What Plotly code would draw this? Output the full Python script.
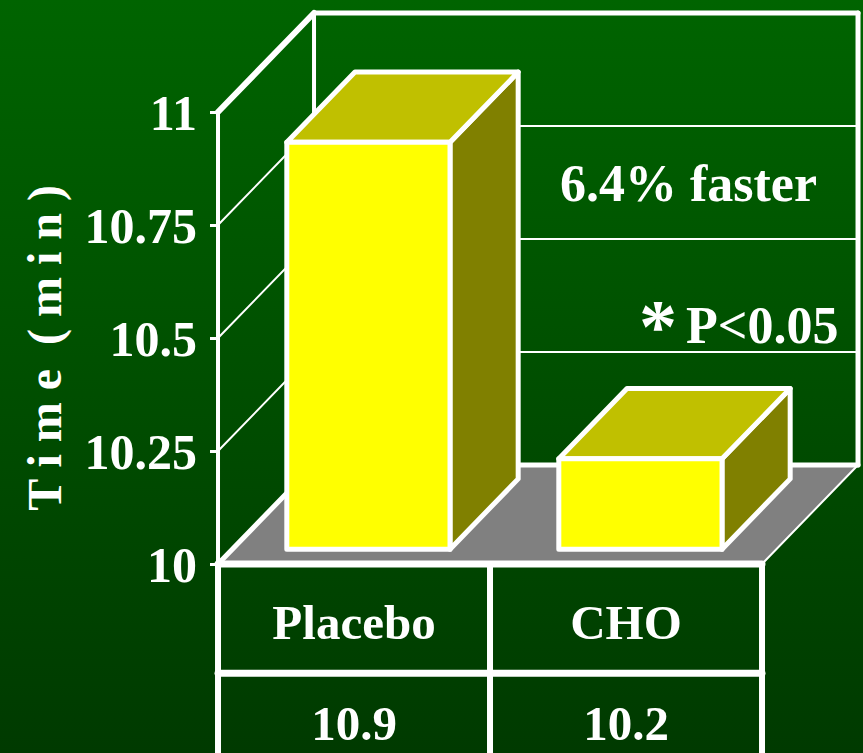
import plotly.graph_objects as go

# ---- data -------------------------------------------------------------
categories = ["Placebo", "CHO"]
times = [10.9, 10.2]                      # minutes
tick_values = [10, 10.25, 10.5, 10.75, 11]
tick_labels = ["10", "10.25", "10.5", "10.75", "11"]
y_title = "T i m e  ( m i n )"
note_faster = "6.4% faster"
note_p_mark = "*"
note_p = "P&lt;0.05"

# ---- view / oblique projection ----------------------------------------
X_RANGE = [-0.8015, 2.3713]       # category units (one table cell = 1)
Y_RANGE = [9.5819, 11.2478]       # minutes
DEPTH_X = 0.353                   # shift per unit depth, x units
DEPTH_Y = 0.219                   # shift per unit depth, minutes
V_MIN, V_MAX = tick_values[0], tick_values[-1]
N = len(categories)
BAR_LO, BAR_HI = 0.2, 0.8         # bar extent inside its cell
BAR_D0, BAR_D1 = 0.15, 0.86       # bar extent in depth
ROW_H = 0.2415                    # table row height, minutes
LABEL_DROP = 0.018                # optical centring of category labels

WHITE = "#FFFFFF"
FONT = "Liberation Serif"
BAR_FRONT, BAR_TOP, BAR_SIDE = "#FFFF00", "#C0C000", "#808000"
FLOOR = "#808080"


def proj(x, v, d):
    return x + d * DEPTH_X, v + d * DEPTH_Y


fig = go.Figure()


def poly(pts, fill, lw):
    xs, ys = zip(*[proj(*p) for p in pts])
    fig.add_trace(go.Scatter(
        x=list(xs) + [xs[0]], y=list(ys) + [ys[0]], mode="lines",
        fill="toself", fillcolor=fill,
        line=dict(color=WHITE, width=lw),
        hoverinfo="skip", showlegend=False))


def seg(p, q, lw):
    (x0, y0), (x1, y1) = proj(*p), proj(*q)
    fig.add_trace(go.Scatter(
        x=[x0, x1], y=[y0, y1], mode="lines",
        line=dict(color=WHITE, width=lw),
        hoverinfo="skip", showlegend=False))


# background gradient
fig.add_trace(go.Scatter(
    x=[X_RANGE[0], X_RANGE[1], X_RANGE[1], X_RANGE[0], X_RANGE[0]],
    y=[Y_RANGE[0], Y_RANGE[0], Y_RANGE[1], Y_RANGE[1], Y_RANGE[0]],
    mode="lines", fill="toself", line=dict(width=0),
    fillgradient=dict(type="vertical",
                      colorscale=[[0, "#003a00"], [1, "#006400"]]),
    hoverinfo="skip", showlegend=False))

# floor
poly([(0, V_MIN, 0), (N, V_MIN, 0), (N, V_MIN, 1), (0, V_MIN, 1)], FLOOR, 0)
seg((0, V_MIN, 0), (0, V_MIN, 1), 5)
seg((N, V_MIN, 0), (N, V_MIN, 1), 2)

# back wall gridlines and side wall diagonals
for v in tick_values[1:-1]:
    seg((0, v, 1), (N, v, 1), 2)
    seg((0, v, 0), (0, v, 1), 2)

# back wall frame
seg((0, V_MAX, 1), (N, V_MAX, 1), 5)
seg((N, V_MIN, 1), (N, V_MAX, 1), 5)
seg((0, V_MIN, 1), (0, V_MAX, 1), 4)
seg((0, V_MIN, 1), (N, V_MIN, 1), 5)
seg((0, V_MAX, 0), (0, V_MAX, 1), 6)

# bars: side, top, front
for i, t in enumerate(times):
    x0, x1 = i + BAR_LO, i + BAR_HI
    poly([(x1, V_MIN, BAR_D0), (x1, V_MIN, BAR_D1),
          (x1, t, BAR_D1), (x1, t, BAR_D0)], BAR_SIDE, 5)
    poly([(x0, t, BAR_D0), (x1, t, BAR_D0),
          (x1, t, BAR_D1), (x0, t, BAR_D1)], BAR_TOP, 5)
    poly([(x0, V_MIN, BAR_D0), (x1, V_MIN, BAR_D0),
          (x1, t, BAR_D0), (x0, t, BAR_D0)], BAR_FRONT, 5)

# front value axis line
seg((0, V_MIN, 0), (0, V_MAX, 0), 4)

# data table under the chart
seg((0, V_MIN, 0), (N, V_MIN, 0), 7)
seg((0, V_MIN - ROW_H, 0), (N, V_MIN - ROW_H, 0), 7)
for k in range(N + 1):
    seg((k, V_MIN, 0), (k, Y_RANGE[0] - 0.2, 0), 6)

label_font = dict(family=FONT, size=49, color=WHITE, weight="bold")
fig.add_trace(go.Scatter(
    x=[i + 0.5 for i in range(N)],
    y=[V_MIN - 0.5 * ROW_H - LABEL_DROP] * N,
    mode="text", text=categories, textfont=label_font,
    textposition="middle center", hoverinfo="skip", showlegend=False))
fig.add_trace(go.Scatter(
    x=[i + 0.5 for i in range(N)],
    y=[V_MIN - 1.5 * ROW_H] * N,
    mode="text", text=[f"{t:.1f}" for t in times], textfont=label_font,
    textposition="middle center", hoverinfo="skip", showlegend=False))

note_font = dict(family=FONT, size=52, color=WHITE, weight="bold")
axis_pos = (0 - X_RANGE[0]) / (X_RANGE[1] - X_RANGE[0])

fig.update_layout(
    width=863, height=753,
    margin=dict(l=0, r=0, t=0, b=0),
    paper_bgcolor="#004d00",
    plot_bgcolor="rgba(0,0,0,0)",
    xaxis=dict(range=X_RANGE, visible=False, fixedrange=True),
    yaxis=dict(range=Y_RANGE, tickvals=tick_values, ticktext=tick_labels,
               ticks="outside", ticklen=8, tickwidth=3, tickcolor=WHITE,
               showgrid=False, zeroline=False, showline=False,
               anchor="free", position=axis_pos, side="left",
               tickfont=dict(family=FONT, size=50, color=WHITE,
                             weight="bold"),
               ticklabelstandoff=3, fixedrange=True),
    annotations=[
        dict(text=note_faster, x=1.728, y=10.841, xref="x", yref="y",
             showarrow=False, font=note_font,
             xanchor="center", yanchor="middle"),
        dict(text=note_p, x=2.287, y=10.527, xref="x", yref="y",
             showarrow=False, font=note_font,
             xanchor="right", yanchor="middle"),
        dict(text=note_p_mark, x=1.618, y=10.527, xref="x", yref="y",
             showarrow=False,
             font=dict(family=FONT, size=76, color=WHITE, weight="bold"),
             xanchor="center", yanchor="middle"),
        dict(text=y_title, x=0.052, y=0.538, xref="paper", yref="paper",
             showarrow=False, textangle=-90,
             font=dict(family=FONT, size=48, color=WHITE, weight="bold"),
             xanchor="center", yanchor="middle"),
    ],
)

# rounded corners on the outlined faces and frame lines
round_joins = (
    "document.querySelectorAll('.scatterlayer path.js-line')"
    ".forEach(function(p){p.style.strokeLinejoin='round';"
    "p.style.strokeLinecap='round';});"
)
fig.write_html("out.html", post_script=round_joins)
